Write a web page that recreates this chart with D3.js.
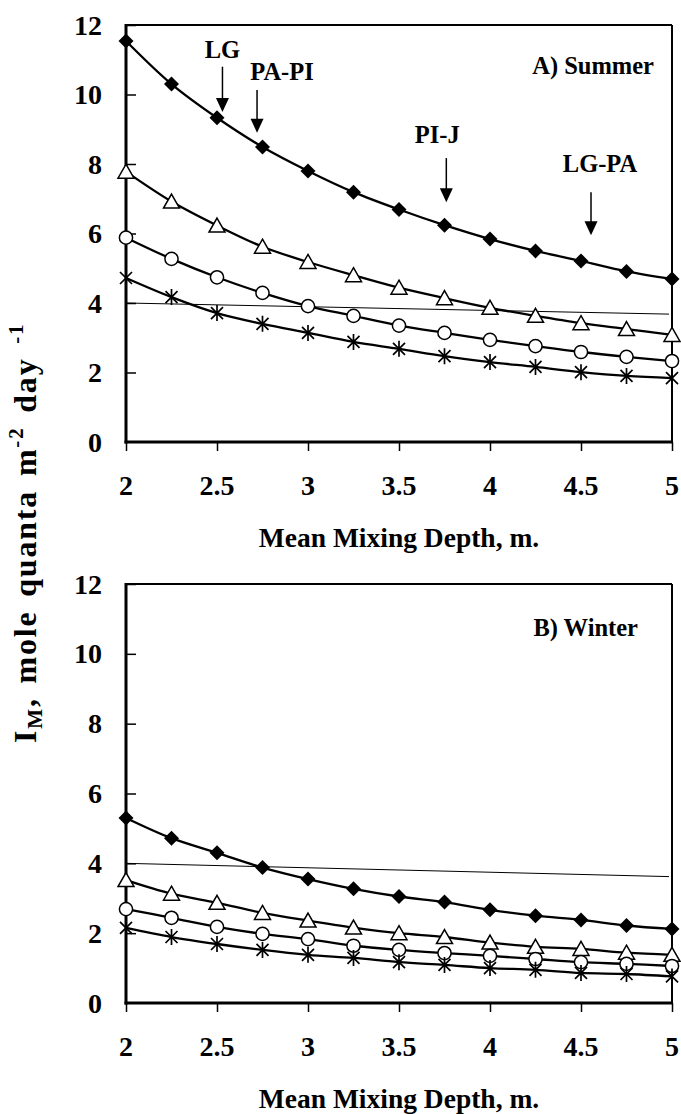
<!DOCTYPE html>
<html>
<head>
<meta charset="utf-8">
<script src="https://cdn.jsdelivr.net/npm/d3@7"></script>
<style>
  html, body { margin: 0; padding: 0; background: #fff; }
  svg { display: block; }
  text { font-family: "Liberation Serif", "Times New Roman", "DejaVu Serif", serif; font-weight: bold; fill: #000; }
</style>
</head>
<body>
<svg id="chart" width="681" height="1114"></svg>
<script>
// Mean mixing depth (m)
const depth = [2, 2.25, 2.5, 2.75, 3, 3.25, 3.5, 3.75, 4, 4.25, 4.5, 4.75, 5];

// Summer light dose I_M (mol quanta m^-2 day^-1)
const summerDiamond  = [11.54, 10.3, 9.33, 8.49, 7.8, 7.19, 6.69, 6.24, 5.84, 5.5, 5.21, 4.91, 4.69];
const summerTriangle = [7.78, 6.92, 6.23, 5.62, 5.18, 4.8, 4.44, 4.14, 3.86, 3.63, 3.42, 3.25, 3.08];
const summerCircle   = [5.88, 5.27, 4.74, 4.29, 3.91, 3.63, 3.35, 3.14, 2.94, 2.76, 2.59, 2.45, 2.33];
const summerStar     = [4.72, 4.17, 3.71, 3.4, 3.14, 2.88, 2.68, 2.47, 2.3, 2.16, 2.01, 1.9, 1.84];
const summerThreshold = [4.0, 3.68];

// Winter light dose I_M
const winterDiamond  = [5.3, 4.72, 4.3, 3.88, 3.55, 3.27, 3.05, 2.89, 2.67, 2.5, 2.38, 2.22, 2.12];
const winterTriangle = [3.52, 3.13, 2.87, 2.58, 2.36, 2.16, 2.0, 1.89, 1.73, 1.61, 1.55, 1.44, 1.38];
const winterCircle   = [2.69, 2.44, 2.18, 1.98, 1.83, 1.64, 1.52, 1.43, 1.35, 1.26, 1.17, 1.12, 1.06];
const winterStar     = [2.15, 1.89, 1.69, 1.52, 1.38, 1.29, 1.17, 1.09, 1.0, 0.95, 0.86, 0.83, 0.76];
const winterThreshold = [4.0, 3.62];

// Lake markers on the summer panel: mixing depth and arrow span
const lakeNames = ["LG", "PA-PI", "PI-J", "LG-PA"];
const lakeDepth = [2.53, 2.72, 3.76, 4.555];
const arrowTop  = [10.8, 10.13, 8.17, 7.19];
const arrowTip  = [9.5, 8.9, 6.9, 5.95];

const xTicks = [2, 2.5, 3, 3.5, 4, 4.5, 5];
const yTicks = [0, 2, 4, 6, 8, 10, 12];

const svg = d3.select("#chart");

const marginLeft = 126, plotRight = 672;
const x = d3.scaleLinear().domain([2, 5]).range([marginLeft, plotRight]);

const symbolPaths = {
  diamond: "M0,-7.5L7.5,0L0,7.5L-7.5,0Z",
  triangle: "M0,-7.5L8,6.5L-8,6.5Z",
  star: "M-6,-6L6,6M-6,6L6,-6M0,-8L0,8"
};

function drawPanel(opts) {
  const y = d3.scaleLinear().domain([0, 12]).range([opts.bottom, opts.top]);
  const g = svg.append("g");

  // plot frame
  g.append("line").attr("x1", x(2)).attr("x2", x(5)).attr("y1", y(12)).attr("y2", y(12))
    .attr("stroke", "#000").attr("stroke-width", 2);
  g.append("line").attr("x1", x(5)).attr("x2", x(5)).attr("y1", y(12)).attr("y2", y(0))
    .attr("stroke", "#000").attr("stroke-width", 2);

  // y axis: ticks point into the plot
  const yAxis = d3.axisRight(y).tickValues(yTicks.filter(v => v > 0)).tickSize(10).tickFormat("");
  const ya = g.append("g").attr("transform", `translate(${x(2)},0)`).call(yAxis);
  ya.select(".domain").remove();
  ya.selectAll(".tick line").attr("stroke", "#000").attr("stroke-width", 1.5);
  g.append("line").attr("x1", x(2)).attr("x2", x(2)).attr("y1", y(12) - 1).attr("y2", y(0) + 1.5)
    .attr("stroke", "#000").attr("stroke-width", 3);

  g.selectAll(".ylab").data(yTicks).join("text")
    .attr("class", "ylab")
    .attr("x", 102).attr("y", d => y(d))
    .attr("dy", "0.34em")
    .attr("text-anchor", "end")
    .attr("font-size", 28)
    .text(d => d);

  // x axis: ticks point down
  const xAxis = d3.axisBottom(x).tickValues(xTicks).tickSize(9).tickFormat("");
  const xa = g.append("g").attr("transform", `translate(0,${y(0)})`).call(xAxis);
  xa.select(".domain").remove();
  xa.selectAll(".tick line").attr("stroke", "#000").attr("stroke-width", 1.5);
  g.append("line").attr("x1", x(2) - 1.5).attr("x2", x(5) + 1).attr("y1", y(0)).attr("y2", y(0))
    .attr("stroke", "#000").attr("stroke-width", 3);

  g.selectAll(".xlab").data(xTicks).join("text")
    .attr("class", "xlab")
    .attr("x", d => x(d)).attr("y", y(0) + 53)
    .attr("text-anchor", "middle")
    .attr("font-size", 28)
    .text(d => d);

  g.append("text")
    .attr("x", (x(2) + x(5)) / 2).attr("y", y(0) + 105)
    .attr("text-anchor", "middle")
    .attr("font-size", 27.5)
    .text("Mean Mixing Depth, m.");

  // threshold line
  g.append("line")
    .attr("x1", x(2)).attr("x2", x(5) - 3)
    .attr("y1", y(opts.threshold[0])).attr("y2", y(opts.threshold[1]))
    .attr("stroke", "#000").attr("stroke-width", 1);

  const line = d3.line()
    .x((d, i) => x(depth[i]))
    .y(d => y(d))
    .curve(d3.curveCatmullRom.alpha(0.5));

  opts.series.forEach(s => {
    g.append("path").datum(s.values)
      .attr("d", line)
      .attr("fill", "none")
      .attr("stroke", "#000")
      .attr("stroke-width", 2.3);
  });

  opts.series.forEach(s => {
    const pts = g.append("g").selectAll("g").data(s.values).join("g")
      .attr("transform", (d, i) => `translate(${x(depth[i])},${y(d)})`);
    if (s.shape === "circle") {
      pts.append("circle").attr("r", 6.6).attr("fill", "#fff").attr("stroke", "#000").attr("stroke-width", 1.5);
    } else if (s.shape === "diamond") {
      pts.append("path").attr("d", symbolPaths.diamond).attr("fill", "#000");
    } else if (s.shape === "triangle") {
      pts.append("path").attr("d", symbolPaths.triangle).attr("fill", "#fff").attr("stroke", "#000").attr("stroke-width", 1.5);
    } else {
      pts.append("path").attr("d", symbolPaths.star).attr("fill", "none").attr("stroke", "#000").attr("stroke-width", 1.7);
    }
  });

  g.append("text")
    .attr("x", opts.labelX).attr("y", opts.labelY)
    .attr("text-anchor", "end")
    .attr("font-size", 24.5)
    .text(opts.label);

  return y;
}

const yA = drawPanel({
  top: 25, bottom: 442,
  threshold: summerThreshold,
  series: [
    { values: summerDiamond, shape: "diamond" },
    { values: summerTriangle, shape: "triangle" },
    { values: summerCircle, shape: "circle" },
    { values: summerStar, shape: "star" }
  ],
  label: "A) Summer", labelX: 654, labelY: 74
});

drawPanel({
  top: 584, bottom: 1003,
  threshold: winterThreshold,
  series: [
    { values: winterDiamond, shape: "diamond" },
    { values: winterTriangle, shape: "triangle" },
    { values: winterCircle, shape: "circle" },
    { values: winterStar, shape: "star" }
  ],
  label: "B) Winter", labelX: 638, labelY: 636
});

// lake arrows on the summer panel
const labelOffset = [[0, -9], [25, -10], [-9, -15], [9, -20]];
lakeNames.forEach((name, i) => {
  const ax = x(lakeDepth[i]);
  const y0 = yA(arrowTop[i]), y1 = yA(arrowTip[i]);
  svg.append("line").attr("x1", ax).attr("x2", ax).attr("y1", y0).attr("y2", y1 - 12)
    .attr("stroke", "#000").attr("stroke-width", 1.5);
  svg.append("path")
    .attr("d", `M${ax - 6.5},${y1 - 14}L${ax + 6.5},${y1 - 14}L${ax},${y1}Z`)
    .attr("fill", "#000");
  svg.append("text")
    .attr("x", ax + labelOffset[i][0]).attr("y", y0 + labelOffset[i][1])
    .attr("text-anchor", "middle")
    .attr("font-size", 24.5)
    .text(name);
});

// shared y-axis title, reading bottom to top from the lower end
const yTitle = svg.append("text")
  .attr("transform", "translate(36,743) rotate(-90)")
  .attr("text-anchor", "start")
  .attr("font-size", 32)
  .attr("letter-spacing", 1.8)
  .attr("word-spacing", 4);
yTitle.append("tspan").text("I");
yTitle.append("tspan").attr("font-size", 21).attr("dy", 6).text("M");
yTitle.append("tspan").attr("dy", -6).text(", mole quanta m");
yTitle.append("tspan").attr("font-size", 21).attr("dy", -13).text("-2");
yTitle.append("tspan").attr("dy", 13).text(" day ");
yTitle.append("tspan").attr("font-size", 21).attr("dy", -13).text("-1");
</script>
</body>
</html>
